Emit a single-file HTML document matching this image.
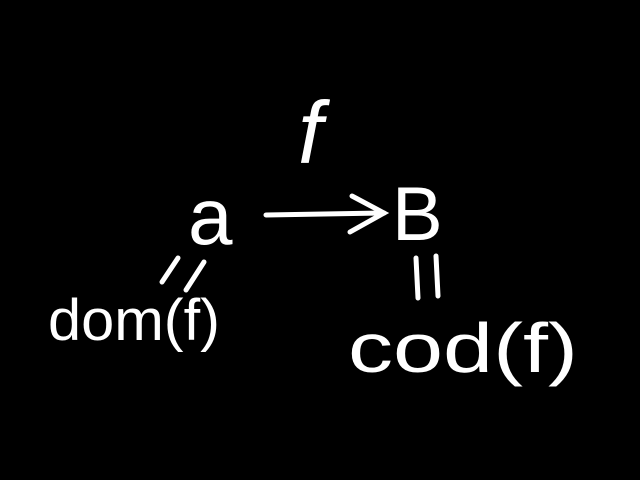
<!DOCTYPE html>
<html>
<head>
<meta charset="utf-8">
<style>
html,body{margin:0;padding:0;background:#000;}
svg{display:block;}
text{fill:#fff;font-family:"Liberation Sans",sans-serif;}
</style>
</head>
<body>
<svg width="640" height="480" viewBox="0 0 640 480">
  <rect x="0" y="0" width="640" height="480" fill="#000"/>
  <text x="298" y="163" font-size="88" font-style="italic">f</text>
  <text x="188" y="244" font-size="80">a</text>
  <g stroke="#fff" stroke-width="5" fill="none" stroke-linecap="round">
    <line x1="266" y1="215" x2="384" y2="213"/>
    <polyline points="352,196 384,213 350,232"/>
  </g>
  <text x="392" y="240" font-size="76">B</text>
  <g stroke="#fff" stroke-width="5" stroke-linecap="round">
    <line x1="178" y1="258" x2="162" y2="282"/>
    <line x1="204" y1="262" x2="186" y2="290"/>
  </g>
  <text x="48" y="340" font-size="58" textLength="172" lengthAdjust="spacingAndGlyphs">dom(f)</text>
  <g stroke="#fff" stroke-width="5" stroke-linecap="round">
    <line x1="416" y1="258" x2="418" y2="298"/>
    <line x1="436" y1="256" x2="438" y2="296"/>
  </g>
  <text x="348" y="372" font-size="70" textLength="230" lengthAdjust="spacingAndGlyphs">cod(f)</text>
</svg>
</body>
</html>
